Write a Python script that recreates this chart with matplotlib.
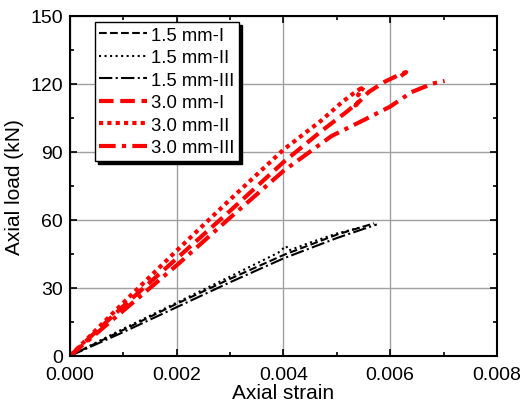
import numpy as np
import matplotlib.pyplot as plt
from matplotlib.ticker import MultipleLocator

plt.rcParams['font.family'] = ['Liberation Sans', 'DejaVu Sans']

# 1.5 mm specimens
s15_1 = [0, 0.001, 0.002, 0.003, 0.004, 0.005, 0.0057]
p15_1 = [0, 11.5, 23, 34, 44.5, 53.5, 58.5]
s15_2 = [0, 0.001, 0.002, 0.003, 0.0039, 0.00405, 0.0041, 0.0045, 0.005, 0.0055]
p15_2 = [0, 12, 23.5, 35, 45.5, 48.5, 46.5, 50, 54, 57]
s15_3 = [0, 0.001, 0.002, 0.003, 0.004, 0.005, 0.00575]
p15_3 = [0, 10.5, 21.5, 32.5, 43, 52, 58]

# 3.0 mm specimens
s30_1 = [0, 0.001, 0.002, 0.003, 0.004, 0.0047, 0.0052, 0.0054, 0.00535, 0.0056, 0.0059, 0.0062, 0.0063, 0.0062]
p30_1 = [0, 22, 43, 64, 85.5, 99, 108, 112, 110.5, 116.5, 121, 124.4, 125.2, 123.5]
s30_2 = [0, 0.001, 0.002, 0.003, 0.004, 0.0047, 0.0051, 0.0053, 0.00545, 0.0054, 0.0055]
p30_2 = [0, 23.5, 46.5, 69, 91, 103.7, 112, 115.6, 118, 115, 118.5]
s30_3 = [0, 0.001, 0.002, 0.003, 0.004, 0.0049, 0.0055, 0.006, 0.0064, 0.0068, 0.00702]
p30_3 = [0, 20, 40, 61, 81.6, 97, 104, 110, 116.4, 120.2, 121.3]

fig = plt.figure(figsize=(5.23, 4.14), dpi=100)
ax = fig.add_axes([0.134, 0.138, 0.816, 0.821])

ax.plot(s15_1, p15_1, color='k', ls='--', lw=1.5, label='1.5 mm-I')
ax.plot(s15_2, p15_2, color='k', ls=':', lw=1.5, label='1.5 mm-II')
ax.plot(s15_3, p15_3, color='k', ls='-.', lw=1.5, label='1.5 mm-III')
ax.plot(s30_1, p30_1, color='red', ls=(0, (3.5, 1.6)), lw=3, label='3.0 mm-I')
ax.plot(s30_2, p30_2, color='red', ls=(0, (1, 1)), lw=3, label='3.0 mm-II')
ax.plot(s30_3, p30_3, color='red', ls=(0, (4, 1.5, 1, 1.5)), lw=3, label='3.0 mm-III')

ax.set_xlim(0, 0.008)
ax.set_ylim(0, 150)
ax.xaxis.set_major_locator(MultipleLocator(0.002))
ax.xaxis.set_minor_locator(MultipleLocator(0.001))
ax.yaxis.set_major_locator(MultipleLocator(30))
ax.yaxis.set_minor_locator(MultipleLocator(15))
ax.xaxis.set_major_formatter(plt.FuncFormatter(lambda v, p: '%.3f' % v))
ax.tick_params(which='both', direction='in', top=True, right=True, labelsize=14, width=1.2)
ax.tick_params(axis='x', pad=7)
ax.tick_params(axis='y', pad=5)
ax.tick_params(which='major', length=5)
ax.tick_params(which='minor', length=3)
for sp in ax.spines.values():
    sp.set_linewidth(1.5)
ax.grid(True, which='major', color='#a0a0a0', lw=1)
ax.set_axisbelow(True)

ax.set_xlabel('Axial strain', fontsize=15, labelpad=0)
ax.set_ylabel('Axial load (kN)', fontsize=15, labelpad=5)

leg = ax.legend(loc='upper left', bbox_to_anchor=(0.058, 0.982), borderaxespad=0,
                fontsize=13.3, fancybox=False, edgecolor='k', framealpha=1,
                shadow={'color': 'k', 'alpha': 1}, handlelength=2.6,
                handletextpad=0.2, labelspacing=0.3, borderpad=0.25)
leg.get_frame().set_linewidth(1)

fig.savefig('out.png', dpi=100)
